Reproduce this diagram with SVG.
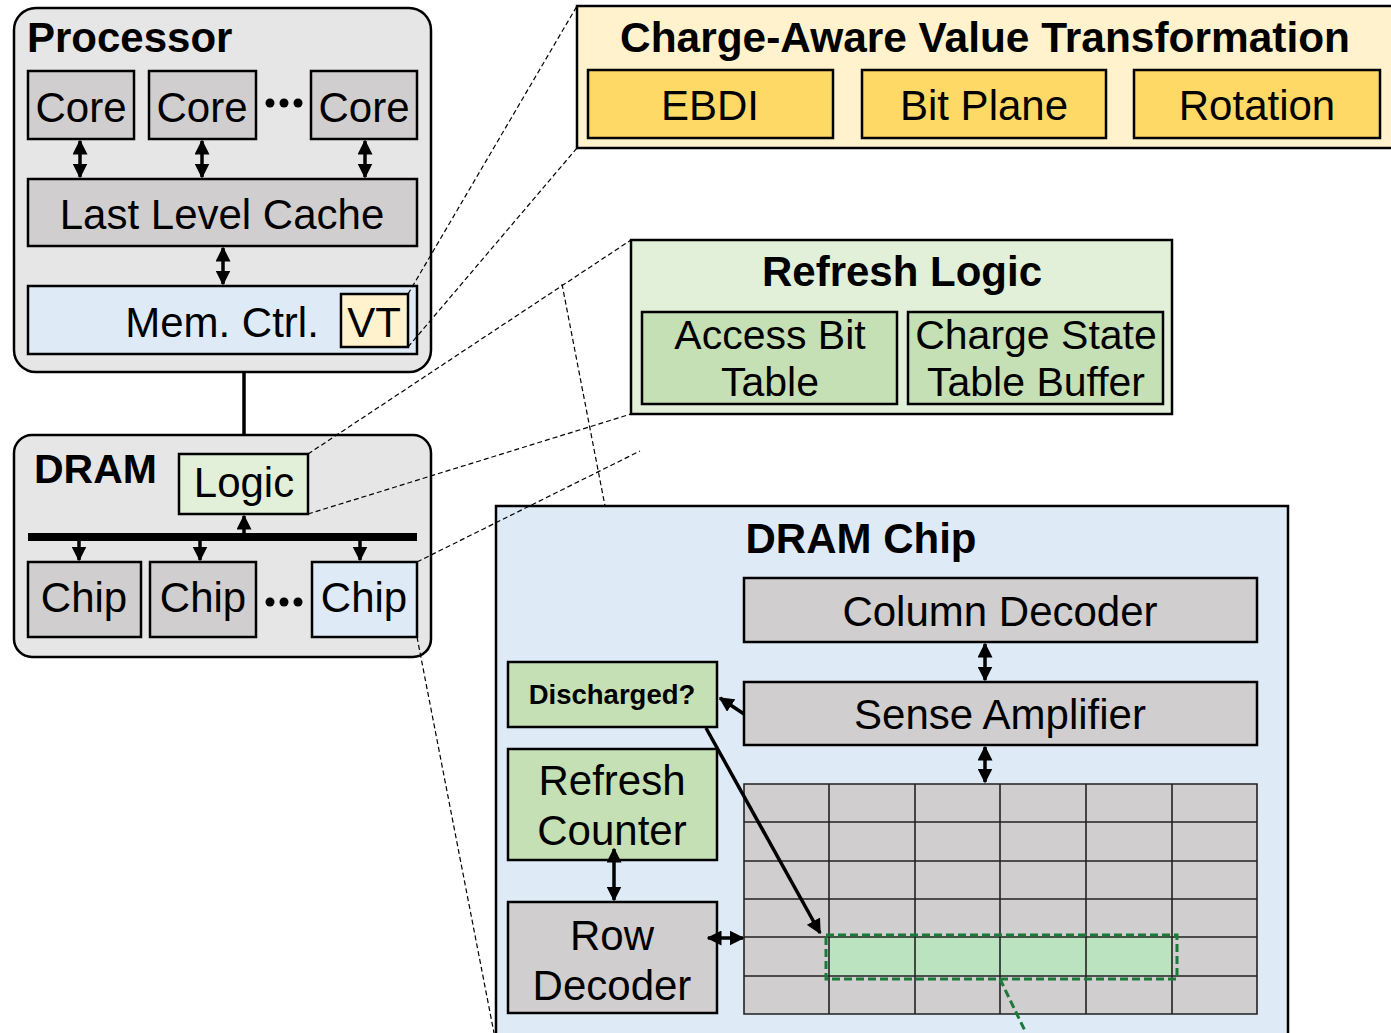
<svg xmlns="http://www.w3.org/2000/svg" width="1391" height="1033" viewBox="0 0 1391 1033">
<style>
text{font-family:"Liberation Sans",Arial,sans-serif;fill:#000}
.t{font-size:42px;text-anchor:middle}
.tb{font-size:42px;font-weight:bold}
.bx{stroke:#000;stroke-width:2.5}
.gray{fill:#d0cece}
.blue{fill:#deebf7}
.lg{fill:#e2f0d9}
.g{fill:#c5e0b4}
.ly{fill:#fff2cc}
.y{fill:#ffd966}
.dash{fill:none;stroke:#000;stroke-width:1.2;stroke-dasharray:5 3}
.arr{stroke:#000;stroke-width:3.5;fill:none}
.grid{stroke:#222;stroke-width:1.6;fill:none}
</style>
<defs>
<marker id="ah" viewBox="0 0 10 10" refX="9" refY="5" markerUnits="userSpaceOnUse" markerWidth="15" markerHeight="15" orient="auto-start-reverse">
<path d="M0,0 L10,5 L0,10 z" fill="#000"/>
</marker>
</defs>
<rect width="1391" height="1033" fill="#fff"/>

<g id="processor">
<rect x="14" y="8" width="417" height="364" rx="22" fill="#e6e6e6" stroke="#000" stroke-width="2.5"/>
<text x="27" y="52" class="tb">Processor</text>
</g>
<g id="core1"><rect x="28" y="71" width="106" height="68" class="bx gray"/><text x="81" y="122" class="t">Core</text></g>
<g id="core2"><rect x="149" y="71" width="107" height="68" class="bx gray"/><text x="202" y="122" class="t">Core</text></g>
<g id="core3"><rect x="311" y="71" width="106" height="68" class="bx gray"/><text x="364" y="122" class="t">Core</text></g>
<g id="dots1"><circle cx="270" cy="103" r="4.5"/><circle cx="284" cy="103" r="4.5"/><circle cx="298" cy="103" r="4.5"/></g>
<g id="llc"><rect x="28" y="179" width="389" height="67" class="bx gray"/><text x="222" y="229" class="t">Last Level Cache</text></g>
<g id="memctrl"><rect x="28" y="286" width="389" height="68" class="bx blue"/><text x="222" y="337" class="t">Mem. Ctrl.</text></g>
<g id="vt"><rect x="341" y="294" width="67" height="53" class="bx ly"/><text x="374" y="337" class="t">VT</text></g>

<g id="dram">
<rect x="14" y="435" width="417" height="222" rx="18" fill="#e6e6e6" stroke="#000" stroke-width="2.5"/>
<text x="34" y="483" class="tb" style="font-size:41px">DRAM</text>
</g>
<g id="logic"><rect x="179" y="454" width="129" height="60" class="bx lg"/><text x="244" y="497" class="t">Logic</text></g>
<g id="bus"><rect x="28" y="533" width="389" height="8" fill="#000"/></g>
<g id="chip1"><rect x="28" y="562" width="113" height="75" class="bx gray"/><text x="84" y="612" class="t">Chip</text></g>
<g id="chip2"><rect x="150" y="562" width="106" height="75" class="bx gray"/><text x="203" y="612" class="t">Chip</text></g>
<g id="chip3"><rect x="312" y="562" width="105" height="75" class="bx blue"/><text x="364" y="612" class="t">Chip</text></g>
<g id="dots2"><circle cx="270" cy="602" r="4.5"/><circle cx="284" cy="602" r="4.5"/><circle cx="298" cy="602" r="4.5"/></g>

<g id="cavt">
<rect x="577" y="6" width="820" height="142" class="bx ly"/>
<text x="985" y="52" class="tb" text-anchor="middle" textLength="730" lengthAdjust="spacingAndGlyphs">Charge-Aware Value Transformation</text>
</g>
<g id="ebdi"><rect x="588" y="70" width="245" height="68" class="bx y"/><text x="710" y="120" class="t">EBDI</text></g>
<g id="bitplane"><rect x="862" y="70" width="244" height="68" class="bx y"/><text x="984" y="120" class="t">Bit Plane</text></g>
<g id="rotation"><rect x="1134" y="70" width="246" height="68" class="bx y"/><text x="1257" y="120" class="t">Rotation</text></g>

<g id="refreshlogic">
<rect x="631" y="240" width="541" height="174" class="bx lg"/>
<text x="902" y="286" class="tb" text-anchor="middle">Refresh Logic</text>
</g>
<g id="abt"><rect x="642" y="312" width="255" height="92" class="bx g"/><text x="770" y="349" class="t" style="font-size:41px">Access Bit</text><text x="770" y="396" class="t" style="font-size:41px">Table</text></g>
<g id="cstb"><rect x="908" y="312" width="255" height="92" class="bx g"/><text x="1036" y="349" class="t" style="font-size:41px">Charge State</text><text x="1036" y="396" class="t" style="font-size:41px">Table Buffer</text></g>

<g id="dramchip">
<rect x="496" y="506" width="792" height="540" class="bx blue"/>
<text x="861" y="553" class="tb" text-anchor="middle">DRAM Chip</text>
</g>
<g id="coldec"><rect x="744" y="578" width="513" height="64" class="bx gray"/><text x="1000" y="626" class="t">Column Decoder</text></g>
<g id="senseamp"><rect x="744" y="682" width="513" height="63" class="bx gray"/><text x="1000" y="729" class="t">Sense Amplifier</text></g>
<g id="discharged"><rect x="508" y="662" width="209" height="65" class="bx g"/><text x="612" y="704" text-anchor="middle" style="font-size:27.5px;font-weight:bold">Discharged?</text></g>
<g id="refcounter"><rect x="508" y="749" width="209" height="111" class="bx g"/><text x="612" y="795" class="t">Refresh</text><text x="612" y="845" class="t">Counter</text></g>
<g id="rowdec"><rect x="508" y="902" width="209" height="111" class="bx gray"/><text x="612" y="950" class="t">Row</text><text x="612" y="1000" class="t">Decoder</text></g>

<g id="cellarray">
<rect x="744" y="784" width="513" height="230" fill="#d0cece"/>
<rect x="829" y="937" width="343" height="39" fill="#bbe3c0"/>
<path class="grid" d="M744,784H1257V1014H744Z M829,784V1014 M915,784V1014 M1000,784V1014 M1086,784V1014 M1172,784V1014 M744,822H1257 M744,861H1257 M744,899H1257 M744,937H1257 M744,976H1257"/>
<rect x="826" y="935" width="351" height="44" fill="none" stroke="#1a7a3a" stroke-width="3" stroke-dasharray="8 4"/>
</g>

<g id="connectors">
<line x1="244" y1="372" x2="244" y2="435" stroke="#000" stroke-width="3.5"/>
<line x1="80" y1="141" x2="80" y2="177" class="arr" marker-start="url(#ah)" marker-end="url(#ah)"/>
<line x1="202" y1="141" x2="202" y2="177" class="arr" marker-start="url(#ah)" marker-end="url(#ah)"/>
<line x1="365" y1="141" x2="365" y2="177" class="arr" marker-start="url(#ah)" marker-end="url(#ah)"/>
<line x1="223" y1="248" x2="223" y2="284" class="arr" marker-start="url(#ah)" marker-end="url(#ah)"/>
<line x1="244" y1="534" x2="244" y2="516" class="arr" marker-end="url(#ah)"/>
<line x1="79" y1="540" x2="79" y2="560" class="arr" marker-end="url(#ah)"/>
<line x1="200" y1="540" x2="200" y2="560" class="arr" marker-end="url(#ah)"/>
<line x1="360" y1="540" x2="360" y2="560" class="arr" marker-end="url(#ah)"/>
<line x1="985" y1="644" x2="985" y2="680" class="arr" marker-start="url(#ah)" marker-end="url(#ah)"/>
<line x1="985" y1="747" x2="985" y2="782" class="arr" marker-start="url(#ah)" marker-end="url(#ah)"/>
<line x1="744" y1="714" x2="720" y2="698" class="arr" marker-end="url(#ah)"/>
<line x1="706" y1="728" x2="820" y2="933" class="arr" marker-end="url(#ah)"/>
<line x1="614" y1="849" x2="614" y2="900" class="arr" marker-start="url(#ah)" marker-end="url(#ah)"/>
<line x1="708" y1="938" x2="743" y2="938" class="arr" marker-start="url(#ah)" marker-end="url(#ah)"/>
<line x1="1000" y1="979" x2="1026" y2="1033" stroke="#1a7a3a" stroke-width="3" stroke-dasharray="8 4"/>
<line x1="408" y1="294" x2="577" y2="6" class="dash"/>
<line x1="408" y1="347" x2="577" y2="148" class="dash"/>
<line x1="308" y1="454" x2="631" y2="240" class="dash"/>
<line x1="308" y1="514" x2="631" y2="414" class="dash"/>
<line x1="417" y1="562" x2="640" y2="451" class="dash"/>
<line x1="417" y1="637" x2="494" y2="1033" class="dash"/>
<line x1="562" y1="284" x2="605" y2="506" class="dash"/>
</g>
</svg>
